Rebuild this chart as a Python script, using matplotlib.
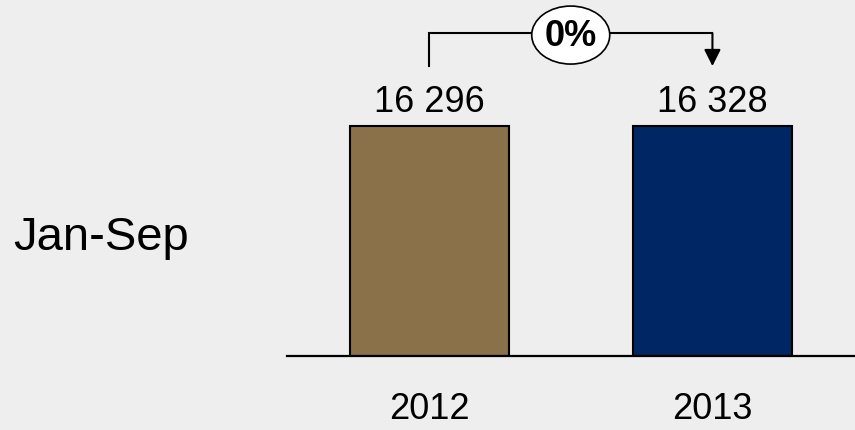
import matplotlib.pyplot as plt
from matplotlib.patches import Ellipse
from matplotlib.transforms import ScaledTranslation

plt.rcParams['font.family'] = ['Liberation Sans', 'DejaVu Sans']

# data
years = ['2012', '2013']
values = [16296, 16328]
value_labels = ['16 296', '16 328']
bar_colors = ['#8A714A', '#002663']
period = 'Jan-Sep'
change_label = '0%'

bg = '#EEEEEE'

fig = plt.figure(figsize=(8.55, 4.31), dpi=100, facecolor=bg)
ax = fig.add_axes([0.3357, 0.1717, 0.6643, 0.8283])
ax.set_facecolor(bg)

x = range(len(years))
ax.bar(x, values, width=0.561, color=bar_colors, edgecolor='black', linewidth=1.5, zorder=2)

ax.set_xlim(-0.501, 1.503)
ax.set_ylim(0, 25300)

for s in ['top', 'right', 'left']:
    ax.spines[s].set_visible(False)
ax.spines['bottom'].set_linewidth(1.6)
ax.spines['bottom'].set_zorder(3)
ax.set_yticks([])
ax.set_xticks(list(x))
ax.set_xticklabels(years, fontsize=26)
ax.tick_params(axis='x', length=0, pad=25)

# value labels above bars
for xi, v, lab in zip(x, values, value_labels):
    ax.annotate(lab, xy=(xi, v), xytext=(0, 10.8), textcoords='offset points',
                ha='center', va='baseline', fontsize=26)

# change bracket
trans = ax.get_xaxis_transform()
y_top, y_bot = 0.904, 0.812
ax.plot([0, 0, 1], [y_bot, y_top, y_top], color='black', lw=1.5,
        transform=trans, clip_on=False, solid_joinstyle='miter')
ax.annotate('', xy=(1, y_bot), xytext=(1, y_top), xycoords=trans, textcoords=trans,
            arrowprops=dict(arrowstyle='-|>,head_length=0.5,head_width=0.25',
                            mutation_scale=20, lw=1.5, color='black',
                            shrinkA=0, shrinkB=0))

# ellipse around the change label, centred between the bars
mid = (x[0] + x[1]) / 2
ell_trans = fig.dpi_scale_trans + ScaledTranslation(mid, y_top, trans)
ax.add_patch(Ellipse((0, -0.018), width=0.78, height=0.58, transform=ell_trans,
                     facecolor='white', edgecolor='black', linewidth=1.2,
                     clip_on=False, zorder=4))
ax.annotate(change_label, xy=(mid, y_top), xycoords=trans, xytext=(0, -1.5),
            textcoords='offset points', ha='center', va='center',
            fontsize=26, fontweight='bold', zorder=5)

fig.text(13 / 855, 0.42, period, ha='left', va='baseline', fontsize=34)

fig.savefig('out.png', dpi=100, facecolor=bg)
